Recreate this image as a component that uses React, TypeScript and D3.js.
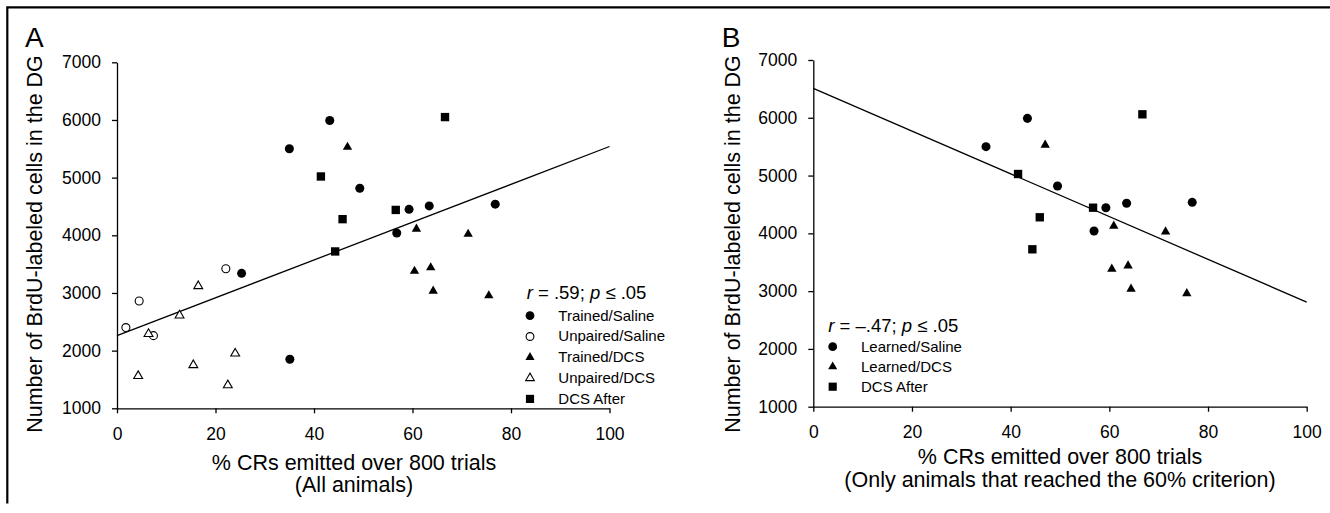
import React, { useRef, useEffect } from "react";
import { select, scaleLinear, axisLeft, axisBottom, line, symbol, symbolCircle, symbolTriangle, symbolSquare } from "d3";

// tick values
const xTicks = [0, 20, 40, 60, 80, 100];
const yTicks = [1000, 2000, 3000, 4000, 5000, 6000, 7000];

// panel A (all animals): [% CRs, BrdU cells]
const trainedSaline = [[35, 5500], [43.2, 5990], [49.3, 4815], [59.3, 4450], [63.4, 4510], [56.8, 4040], [76.8, 4540], [25.3, 3340], [35.1, 1850]];
const unpairedSaline = [[1.8, 2400], [4.5, 2860], [7.4, 2260], [22.1, 3420]];
const trainedDCS = [[46.8, 5530], [60.8, 4110], [71.3, 4020], [60.4, 3380], [63.7, 3440], [64.2, 3035], [75.5, 2955]];
const unpairedDCS = [[16.5, 3120], [12.7, 2610], [6.4, 2290], [4.3, 1560], [15.5, 1750], [24, 1950], [22.5, 1400]];
const dcsAfter = [[41.4, 5020], [45.8, 4280], [56.6, 4440], [66.6, 6050], [44.3, 3720]];
const fitA = [[0, 2260], [100, 5540]];

// panel B (animals that reached criterion)
const learnedSaline = [[35, 5500], [43.4, 5990], [49.5, 4820], [59.3, 4444], [63.5, 4520], [56.9, 4040], [76.8, 4537]];
const learnedDCS = [[47, 5530], [60.9, 4127], [71.4, 4029], [60.5, 3383], [63.8, 3440], [64.4, 3037], [75.7, 2960]];
const dcsAfterB = [[41.5, 5027], [45.9, 4278], [56.7, 4444], [66.7, 6060], [44.4, 3724]];
const fitB = [[0, 6510], [100, 2810]];

const FONT = "'Liberation Sans', Arial, Helvetica, sans-serif";

const shapes = {
  circle: { type: symbolCircle, size: 64, fill: "#000" },
  openCircle: { type: symbolCircle, size: 50, fill: "#fff" },
  triangle: { type: symbolTriangle, size: 38, fill: "#000" },
  openTriangle: { type: symbolTriangle, size: 34, fill: "#fff" },
  square: { type: symbolSquare, size: 70, fill: "#000" },
};

function Panel({ letter, xRange, yRange, series, fit, yLabelX, xLabelCenter, xLabelLines, xLabelY, legend }) {
  const xAxisRef = useRef();
  const yAxisRef = useRef();

  const xScale = scaleLinear().domain([0, 100]).range(xRange);
  const yScale = scaleLinear().domain([1000, 7000]).range(yRange);

  useEffect(() => {
    const xa = select(xAxisRef.current);
    xa.call(axisBottom(xScale).tickValues(xTicks).tickFormat((d) => String(d)).tickSize(5).tickSizeOuter(0).tickPadding(14));
    const ya = select(yAxisRef.current);
    ya.call(axisLeft(yScale).tickValues(yTicks).tickFormat((d) => String(d)).tickSize(5).tickSizeOuter(0).tickPadding(11));
    [xa, ya].forEach((a) => {
      a.attr("font-family", FONT).attr("font-size", 17.5);
      a.selectAll("path, line").attr("stroke", "#000").attr("stroke-width", 1.3);
      a.selectAll("text").attr("fill", "#000");
    });
  }, []);

  const fitPath = line()
    .x((d) => xScale(d[0]))
    .y((d) => yScale(d[1]))(fit);

  const yMid = 244;

  return (
    <g>
      <text x={letter.x} y={46.7} fontSize={28} fontFamily={FONT}>{letter.text}</text>
      <g ref={xAxisRef} transform={`translate(0,${yRange[0]})`} />
      <g ref={yAxisRef} transform={`translate(${xRange[0]},0)`} />
      <path d={fitPath} fill="none" stroke="#000" strokeWidth={1.3} />
      {series.map((s, i) => (
        <g key={i}>
          {s.data.map((d, j) => (
            <path
              key={j}
              d={symbol(shapes[s.shape].type, shapes[s.shape].size)()}
              transform={`translate(${xScale(d[0])},${yScale(d[1])})`}
              fill={shapes[s.shape].fill}
              stroke="#000"
              strokeWidth={shapes[s.shape].fill === "#fff" ? 1.1 : 0}
            />
          ))}
        </g>
      ))}
      <text
        transform={`translate(${yLabelX},${yMid}) rotate(-90)`}
        textAnchor="middle"
        fontSize={21.5}
        fontFamily={FONT}
      >
        Number of BrdU-labeled cells in the DG
      </text>
      {xLabelLines.map((t, i) => (
        <text key={i} x={xLabelCenter} y={xLabelY[i]} textAnchor="middle" fontSize={21.5} fontFamily={FONT}>
          {t}
        </text>
      ))}
      <text x={legend.rx} y={legend.ry} fontSize={18.5} fontFamily={FONT}>
        <tspan fontStyle="italic">r</tspan>
        {legend.rText}
        <tspan fontStyle="italic">p</tspan>
        {" ≤ .05"}
      </text>
      {series.map((s, i) => (
        <g key={i}>
          <path
            d={symbol(shapes[s.shape].type, shapes[s.shape].size * 0.95)()}
            transform={`translate(${legend.mx},${legend.my + i * legend.step})`}
            fill={shapes[s.shape].fill}
            stroke="#000"
            strokeWidth={shapes[s.shape].fill === "#fff" ? 1.1 : 0}
          />
          <text x={legend.tx} y={legend.ty + i * legend.step} fontSize={15} fontFamily={FONT}>
            {s.name}
          </text>
        </g>
      ))}
    </g>
  );
}

export default function App() {
  const seriesA = [
    { name: "Trained/Saline", shape: "circle", data: trainedSaline },
    { name: "Unpaired/Saline", shape: "openCircle", data: unpairedSaline },
    { name: "Trained/DCS", shape: "triangle", data: trainedDCS },
    { name: "Unpaired/DCS", shape: "openTriangle", data: unpairedDCS },
    { name: "DCS After", shape: "square", data: dcsAfter },
  ];
  const seriesB = [
    { name: "Learned/Saline", shape: "circle", data: learnedSaline },
    { name: "Learned/DCS", shape: "triangle", data: learnedDCS },
    { name: "DCS After", shape: "square", data: dcsAfterB },
  ];

  return (
    <svg width={1330} height={513} style={{ position: "absolute", left: 0, top: 0, background: "#fff" }}>
      <rect width={1330} height={513} fill="#fff" />
      {/* figure frame: top and left edges only */}
      <path d="M7.3,503.5 L7.3,7.3 L1330,7.3" fill="none" stroke="#000" strokeWidth={2.2} />
      <Panel
        letter={{ text: "A", x: 25 }}
        xRange={[117, 609.5]}
        yRange={[408.3, 62.3]}
        series={seriesA}
        fit={fitA}
        yLabelX={42.3}
        xLabelCenter={354}
        xLabelLines={["% CRs emitted over 800 trials", "(All animals)"]}
        xLabelY={[470, 491.5]}
        legend={{ rx: 526.7, ry: 299, rText: " = .59; ", mx: 530, my: 315.7, tx: 558.3, ty: 320.5, step: 20.8 }}
      />
      <Panel
        letter={{ text: "B", x: 721.7 }}
        xRange={[813.3, 1306.7]}
        yRange={[406.7, 60]}
        series={seriesB}
        fit={fitB}
        yLabelX={740}
        xLabelCenter={1060}
        xLabelLines={["% CRs emitted over 800 trials", "(Only animals that reached the 60% criterion)"]}
        xLabelY={[463.5, 486.5]}
        legend={{ rx: 828.3, ry: 331.7, rText: " = –.47; ", mx: 832.7, my: 346.7, tx: 861, ty: 351.7, step: 20 }}
      />
    </svg>
  );
}
